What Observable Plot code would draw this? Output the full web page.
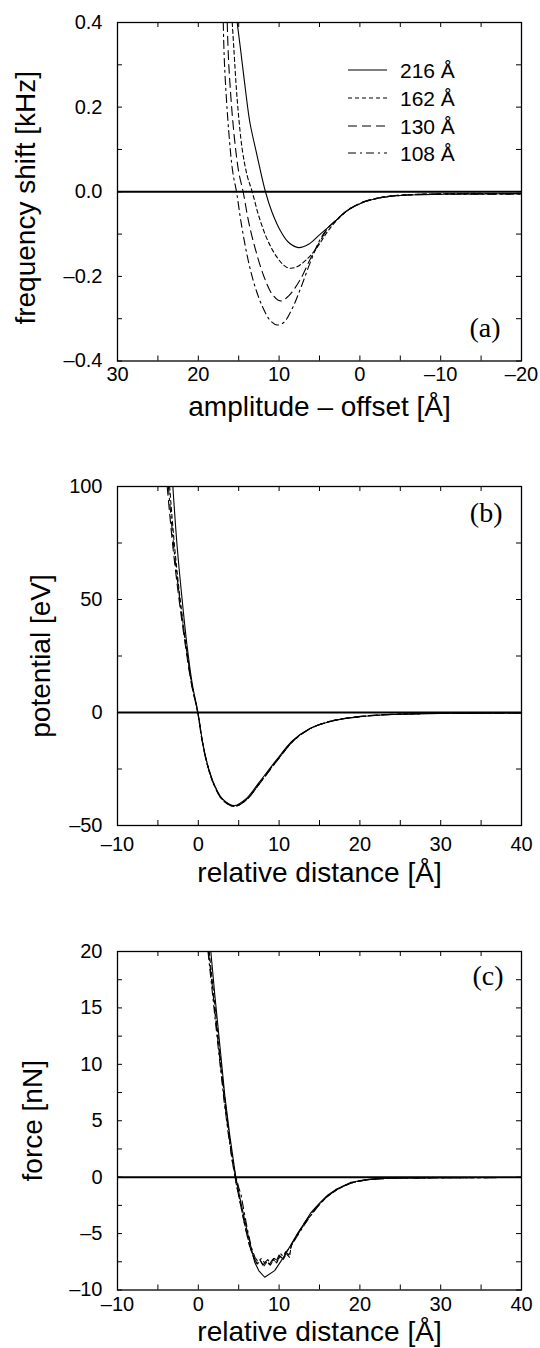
<!DOCTYPE html>
<html><head><meta charset="utf-8">
<script src="https://cdn.jsdelivr.net/npm/d3@7"></script>
<script src="https://cdn.jsdelivr.net/npm/@observablehq/plot@0.6"></script>
<style>
html,body{margin:0;padding:0;background:#fff;}
#chart{width:540px;height:1348px;position:relative;overflow:hidden;background:#fff;}
#chart svg{display:block;}
</style></head><body><div id="chart"></div>
<script>
// ---------- legend / series ----------
const seriesNames = ["216 Å", "162 Å", "130 Å", "108 Å"];
const dashes = [null, "4,3", "9,5", "8,4,2,4"];

// ---------- panel (a): frequency shift vs amplitude - offset ----------
const a216x = [15.19, 14.78, 14.28, 13.75, 13.54, 12.72, 11.69, 10.86, 9.84, 8.81, 7.58, 6.35, 4.9, 3.26, 1.6, 0.05, -0.86, -2.9, -5, -7.04, -10, -13.2, -16, -20];
const a216y = [0.4, 0.338, 0.259, 0.18, 0.156, 0.085, 0, -0.049, -0.092, -0.12, -0.132, -0.124, -0.1, -0.073, -0.045, -0.029, -0.022, -0.013, -0.009, -0.007, -0.006, -0.005, -0.005, -0.004];
const a162x = [15.8, 15.6, 15.19, 14.57, 13.95, 13.33, 12.52, 11.48, 10.25, 9.01, 7.99, 6.54, 5.31, 4.07, 3.2, 1.6, 0, -1, -3, -5, -7, -10, -13, -16, -20];
const a162y = [0.4, 0.338, 0.219, 0.101, 0.038, 0, -0.057, -0.112, -0.155, -0.179, -0.179, -0.159, -0.132, -0.096, -0.075, -0.045, -0.028, -0.021, -0.012, -0.008, -0.006, -0.005, -0.004, -0.004, -0.004];
const a130x = [16.42, 16.22, 15.6, 14.99, 14.45, 13.75, 12.93, 11.9, 10.86, 9.84, 8.81, 7.37, 6.14, 4.9, 3.88, 3, 1.5, 0, -1, -3, -5, -7, -10, -13, -16, -20];
const a130y = [0.4, 0.298, 0.14, 0.046, 0, -0.073, -0.136, -0.199, -0.242, -0.258, -0.246, -0.207, -0.159, -0.116, -0.084, -0.068, -0.043, -0.027, -0.02, -0.012, -0.008, -0.006, -0.005, -0.005, -0.005, -0.005];
const a108x = [16.91, 16.75, 16.22, 15.73, 15.27, 14.7, 13.95, 13.14, 12.1, 11.07, 10.25, 9.43, 8.4, 7.37, 6.14, 4.9, 3.88, 3, 1.5, 0, -1, -3, -5, -7, -10, -13, -16, -20];
const a108y = [0.4, 0.298, 0.14, 0.046, 0, -0.073, -0.151, -0.214, -0.27, -0.305, -0.315, -0.309, -0.277, -0.23, -0.167, -0.112, -0.084, -0.069, -0.044, -0.028, -0.021, -0.013, -0.009, -0.007, -0.006, -0.006, -0.006, -0.006];

// ---------- panel (b): potential vs relative distance ----------
const b216x = [-3.15, -2.61, -1.99, -1.37, -0.75, -0.04, 0.5, 1.12, 1.95, 2.99, 4.44, 5.9, 7.55, 9.63, 11.69, 13.77, 16.05, 18, 20, 22, 25, 30, 35, 40];
const b216y = [100, 73.1, 49.6, 28.9, 12.7, 0, -12.4, -22.7, -31.6, -38.2, -41.2, -38.2, -30.8, -21.2, -12.4, -7.2, -4.3, -2.8, -1.9, -1.3, -0.8, -0.4, -0.3, -0.2];
const b162x = [-3.55, -2.95, -2.25, -1.5, -0.82, -0.07, 0.48, 1.1, 1.93, 2.97, 4.42, 5.95, 7.65, 9.75, 11.85, 13.95, 16.2, 18.2, 20.2, 22.2, 25, 30, 35, 40];
const b162y = [100, 74.0, 50.3, 29.4, 12.9, 0, -12.5, -22.9, -31.9, -38.5, -41.6, -38.6, -31.0, -21.0, -12.1, -6.9, -4.0, -2.6, -1.7, -1.2, -0.7, -0.35, -0.25, -0.2];
const b130x = [-3.85, -3.15, -2.38, -1.58, -0.86, -0.08, 0.47, 1.1, 1.94, 2.98, 4.45, 6.0, 7.7, 9.85, 11.95, 14.05, 16.3, 18.3, 20.3, 22.3, 25, 30, 35, 40];
const b130y = [100, 73.5, 50.0, 29.2, 12.8, 0, -12.6, -23.0, -32.0, -38.6, -41.5, -38.5, -30.9, -20.9, -12.0, -6.8, -3.9, -2.5, -1.6, -1.1, -0.7, -0.35, -0.25, -0.2];
const b108x = [-3.7, -3.05, -2.3, -1.52, -0.84, -0.06, 0.49, 1.12, 1.95, 3.0, 4.47, 5.98, 7.68, 9.8, 11.9, 14.0, 16.25, 18.25, 20.25, 22.25, 25, 30, 35, 40];
const b108y = [100, 73.8, 50.1, 29.3, 12.85, 0, -12.5, -22.8, -31.8, -38.4, -41.4, -38.4, -30.9, -21.0, -12.1, -6.9, -4.0, -2.6, -1.7, -1.15, -0.7, -0.35, -0.25, -0.2];

// ---------- panel (c): force vs relative distance ----------
const c216x = [1.55, 2.05, 2.67, 3.28, 3.9, 4.64, 5.34, 6.17, 6.98, 7.5, 8.22, 9.45, 10.68, 12.13, 13.97, 15.0, 16.0, 17.0, 18.0, 18.9, 21, 23, 25, 30, 35, 40];
const c216y = [20, 16.1, 11.67, 7.23, 3.69, 0, -2.5, -5.18, -7.54, -8.3, -8.87, -8.28, -6.95, -5.18, -3.11, -2.3, -1.6, -1.1, -0.75, -0.45, -0.2, -0.1, -0.08, -0.05, -0.03, -0.03];
const c162x = [1.35, 1.7, 2.1, 2.5, 2.9, 3.4, 3.9, 4.4, 4.7, 5.2, 5.8, 6.4, 6.9, 7.3, 7.7, 8.1, 8.5, 8.9, 9.3, 9.7, 10.1, 10.5, 10.9, 11.3, 11.5, 12.2, 13.0, 14.0, 15.0, 16.0, 17.0, 18.0, 19.0, 20.5, 22, 25, 30, 35, 40];
const c162y = [20, 17.6, 14.9, 12.1, 9.4, 6.2, 3.4, 0.8, -0.6, -2.3, -4.4, -6.2, -7.2, -7.7, -7.4, -7.9, -7.5, -7.8, -7.2, -7.6, -7.0, -7.3, -6.8, -7.1, -6.0, -5.2, -4.3, -3.3, -2.4, -1.7, -1.2, -0.8, -0.5, -0.3, -0.15, -0.08, -0.05, -0.04, -0.03];
const c130x = [1.25, 1.65, 2.05, 2.45, 2.85, 3.3, 3.8, 4.3, 4.65, 5.1, 5.7, 6.3, 6.8, 7.2, 7.6, 8.0, 8.4, 8.8, 9.2, 9.6, 10.0, 10.4, 10.8, 11.2, 11.6, 12.3, 13.1, 14.1, 15.1, 16.1, 17.1, 18.1, 19.2, 20.5, 22, 25, 30, 35, 40];
const c130y = [20, 17.5, 14.7, 12.0, 9.3, 6.4, 3.6, 1.0, -0.4, -2.0, -4.1, -6.0, -7.0, -7.6, -7.3, -7.8, -7.4, -7.7, -7.3, -7.5, -6.9, -7.2, -6.6, -6.9, -5.9, -5.0, -4.1, -3.1, -2.3, -1.6, -1.1, -0.75, -0.45, -0.25, -0.15, -0.08, -0.05, -0.03, -0.03];
const c108x = [1.2, 1.6, 2.0, 2.4, 2.8, 3.2, 3.7, 4.2, 4.6, 5.0, 5.3, 5.6, 6.1, 6.6, 7.0, 7.4, 7.8, 8.2, 8.6, 9.0, 9.4, 9.8, 10.2, 10.6, 11.0, 11.4, 12.0, 12.8, 13.8, 14.8, 15.8, 16.8, 17.8, 18.8, 20, 22, 25, 30, 35, 40];
const c108y = [20, 17.3, 14.6, 11.9, 9.3, 6.7, 3.9, 1.4, 0.2, -0.9, -1.6, -2.8, -4.7, -6.3, -7.1, -7.5, -7.2, -7.6, -7.3, -7.7, -7.2, -7.4, -6.8, -7.1, -6.5, -6.2, -5.5, -4.6, -3.5, -2.6, -1.8, -1.25, -0.85, -0.55, -0.3, -0.15, -0.08, -0.05, -0.04, -0.03];

// ---------- ticks ----------
const aXMajor = [30, 20, 10, 0, -10, -20];
const aXMinor = [30, 25, 20, 15, 10, 5, 0, -5, -10, -15, -20];
const aYMajor = [-0.4, -0.2, 0, 0.2, 0.4];
const aYMinor = [-0.4, -0.3, -0.2, -0.1, 0, 0.1, 0.2, 0.3, 0.4];
const dXMajor = [-10, 0, 10, 20, 30, 40];
const dXMinor = [-10, -5, 0, 5, 10, 15, 20, 25, 30, 35, 40];
const bYMajor = [-50, 0, 50, 100];
const bYMinor = [-50, -25, 0, 25, 50, 75, 100];
const cYMajor = [-10, -5, 0, 5, 10, 15, 20];
const cYMinor = [-10, -7.5, -5, -2.5, 0, 2.5, 5, 7.5, 10, 12.5, 15, 17.5, 20];

const dash = s => s.replace("-", "–");
const fmtInt = d => dash(String(d));
const fmt1 = d => dash(d.toFixed(1));

const rows = (xs, ys) => xs.map((x, i) => ({x, y: ys[i]}));

const ML = 117, MR = 19, W = 540;
const SANS = "'Liberation Sans', Arial, Helvetica, sans-serif";

function panel(o) {
  const innerW = W - ML - MR;
  const innerH = o.h - o.mt - o.mb;
  const tk = {stroke: "black", strokeOpacity: 1, strokeWidth: 1};
  const marks = [
    Plot.gridX(o.xMinor, {...tk, insetTop: innerH - 5}),
    Plot.gridX(o.xMinor, {...tk, insetBottom: innerH - 5}),
    Plot.gridY(o.yMinor, {...tk, insetRight: innerW - 5}),
    Plot.gridY(o.yMinor, {...tk, insetLeft: innerW - 5}),
    Plot.axisX(o.xMajor, {tickSize: 0, tickPadding: o.xPad, fontSize: 20, tickFormat: o.xFmt, label: null}),
    Plot.axisY(o.yMajor, {tickSize: 0, tickPadding: 15, fontSize: 20, tickFormat: o.yFmt, label: null}),
    Plot.ruleY([0], {stroke: "black", strokeWidth: 2}),
    ...o.lines.map((d, i) => Plot.line(d, {x: "x", y: "y", stroke: "black", strokeWidth: 1.1, strokeDasharray: dashes[i], curve: o.curve})),
    Plot.frame({stroke: "black", strokeWidth: 1.3}),
    Plot.text([o.xLabel], {text: d => d, frameAnchor: "bottom", dy: o.xLabelDy, lineAnchor: "bottom", textAnchor: "middle", fontSize: 28}),
    Plot.text([o.yLabel], {text: d => d, frameAnchor: "left", dx: o.yLabelDx, dy: o.yLabelDy || 0, rotate: -90, lineAnchor: "top", textAnchor: "middle", fontSize: 28}),
    Plot.text([o.tag], {text: d => d, frameAnchor: o.tagAnchor, dx: o.tagDx, dy: o.tagDy, lineAnchor: "bottom", textAnchor: "end", fontSize: 28, fontFamily: "'Liberation Serif', 'Times New Roman', serif"})
  ];
  return Plot.plot({
    width: W, height: o.h,
    marginLeft: ML, marginRight: MR, marginTop: o.mt, marginBottom: o.mb,
    x: {domain: o.xDomain},
    y: {domain: o.yDomain},
    style: {fontFamily: SANS, color: "black", background: "white"},
    marks
  });
}

const chart = document.getElementById("chart");

const pa = panel({
  h: 450, mt: 22, mb: 89.5,
  xDomain: [30, -20], yDomain: [-0.4, 0.4],
  xMajor: aXMajor, xMinor: aXMinor, yMajor: aYMajor, yMinor: aYMinor,
  xFmt: fmtInt, yFmt: fmt1, xPad: 6,
  lines: [rows(a216x, a216y), rows(a162x, a162y), rows(a130x, a130y), rows(a108x, a108y)],
  curve: "catmull-rom",
  xLabel: "amplitude – offset [Å]", xLabelDy: 54.5,
  yLabel: "frequency shift [kHz]", yLabelDx: -102, yLabelDy: 6,
  tag: "(a)", tagAnchor: "bottom-right", tagDx: -21, tagDy: -24
});
chart.appendChild(pa);

// legend inside panel (a)
{
  const svg = d3.select(pa);
  const g = svg.append("g").attr("aria-label", "legend").attr("text-anchor", "start");
  const ys = [70, 98, 126, 153];
  seriesNames.forEach((name, i) => {
    g.append("line").attr("x1", 348).attr("x2", 387).attr("y1", ys[i]).attr("y2", ys[i])
      .attr("stroke", "black").attr("stroke-width", 1.1)
      .attr("stroke-dasharray", dashes[i]);
    g.append("text").attr("x", 400).attr("y", ys[i] + 7.5)
      .attr("text-anchor", "start")
      .attr("font-size", 21).attr("font-family", SANS)
      .attr("fill", "black").text(name);
  });
}

const pb = panel({
  h: 450, mt: 36, mb: 75,
  xDomain: [-10, 40], yDomain: [-50, 100],
  xMajor: dXMajor, xMinor: dXMinor, yMajor: bYMajor, yMinor: bYMinor,
  xFmt: fmtInt, yFmt: fmtInt, xPad: 11,
  lines: [rows(b216x, b216y), rows(b162x, b162y), rows(b130x, b130y), rows(b108x, b108y)],
  curve: "catmull-rom",
  xLabel: "relative distance [Å]", xLabelDy: 56,
  yLabel: "potential [eV]", yLabelDx: -87,
  tag: "(b)", tagAnchor: "top-right", tagDx: -19, tagDy: 35
});
chart.appendChild(pb);

const pc = panel({
  h: 448, mt: 51, mb: 58.5,
  xDomain: [-10, 40], yDomain: [-10, 20],
  xMajor: dXMajor, xMinor: dXMinor, yMajor: cYMajor, yMinor: cYMinor,
  xFmt: fmtInt, yFmt: fmtInt, xPad: 7,
  lines: [rows(c216x, c216y), rows(c162x, c162y), rows(c130x, c130y), rows(c108x, c108y)],
  curve: "linear",
  xLabel: "relative distance [Å]", xLabelDy: 50.5,
  yLabel: "force [nN]", yLabelDx: -95,
  tag: "(c)", tagAnchor: "top-right", tagDx: -18, tagDy: 33
});
chart.appendChild(pc);
</script>
</body></html>
